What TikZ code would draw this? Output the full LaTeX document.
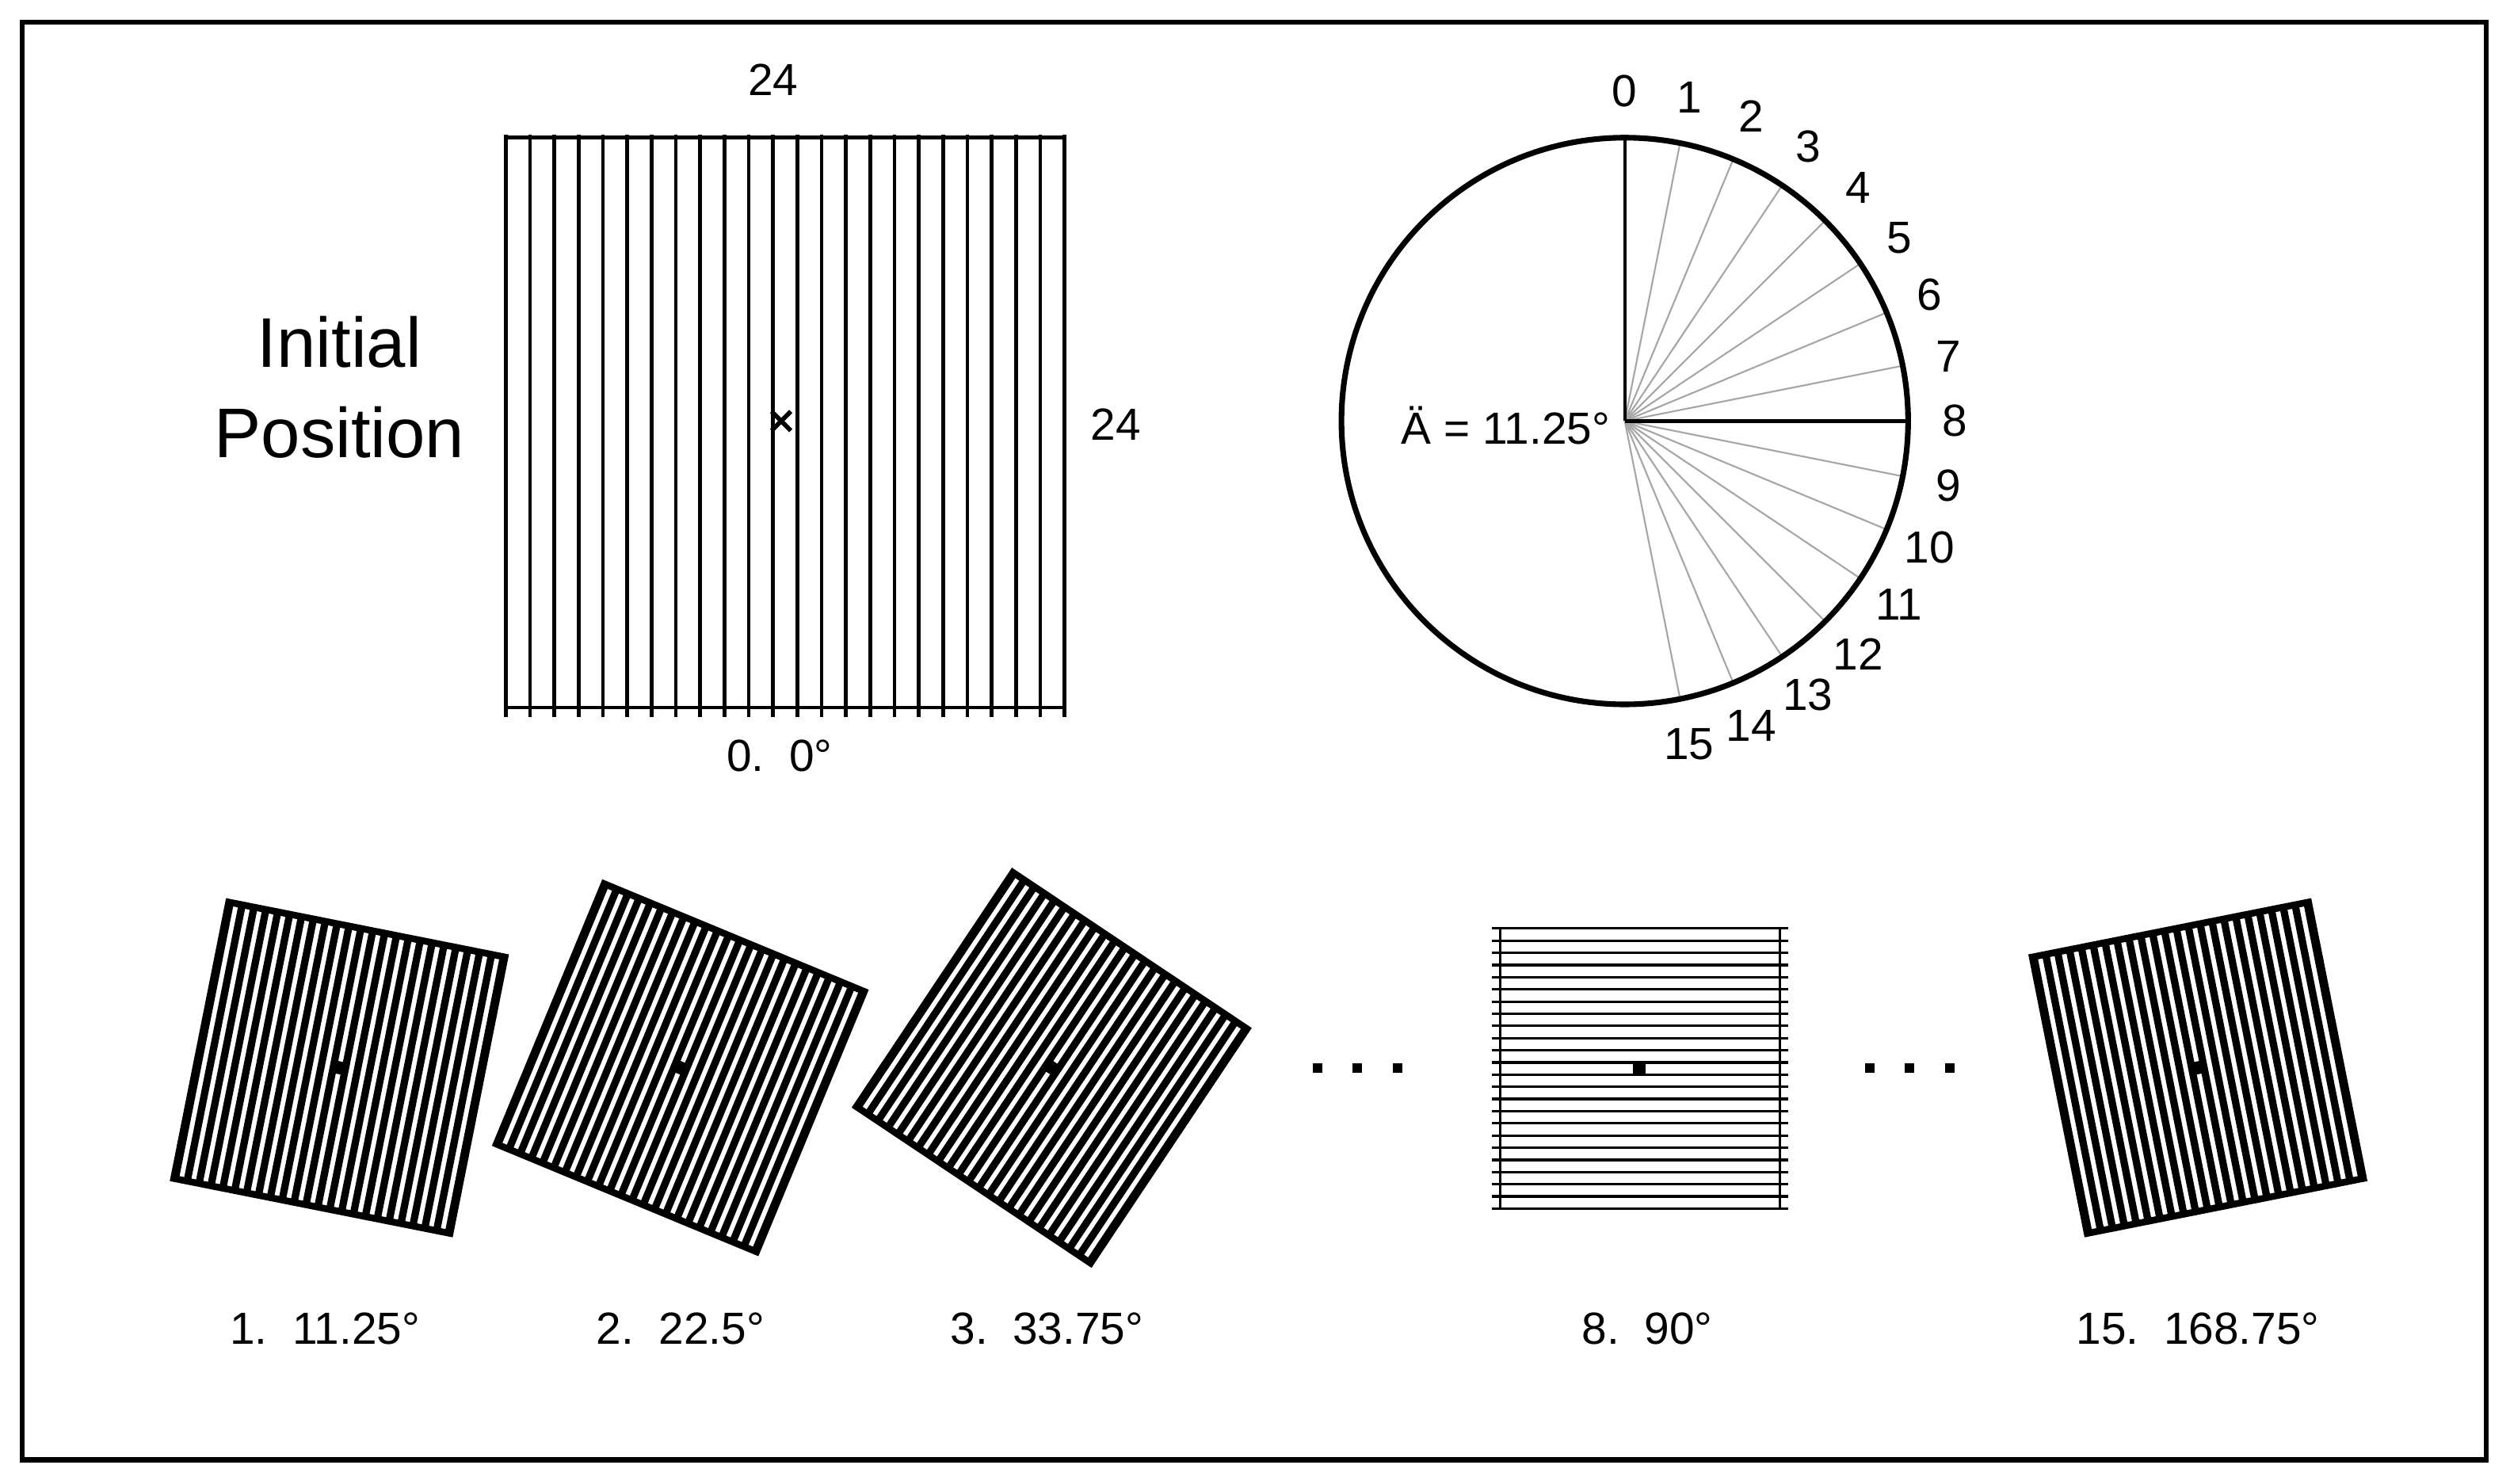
\documentclass[tikz,border=0pt]{standalone}
\usepackage{fontspec}
\setmainfont{Liberation Sans}
\begin{document}
\begin{tikzpicture}[x=0.02cm,y=-0.02cm,
  lbl/.style={font=\fontsize{16}{18}\selectfont},
  gline/.style={line width=1.3pt},
  spoke/.style={draw=gray!70,line width=0.6pt}]
\useasboundingbox (0,0) rectangle (1568,927);
\draw[line width=1.8pt] (14,14) rectangle (1553,912);
% big grating
\foreach \k in {0,...,23}{\draw[gline] ({316+\k*349/23},84) -- ({316+\k*349/23},448);}
\draw[gline] (316,86) -- (665,86) (316,442) -- (665,442);
\fill[white] (484,256) rectangle (492,270);
\draw[line width=1.6pt] (482,257) -- (494,269) (482,269) -- (494,257);
\node[lbl] (t24) at (483,50) {24};
\node[lbl] (r24) at (697,265) {24};
\node[lbl] (l0) at (487,472) {0.\ \ 0°};
\node[font=\fontsize{25}{32}\selectfont,align=center] (init) at (212,242) {Initial\\Position};
% circle
\coordinate (c) at (1015,263);
\foreach \k in {1,...,7,9,10,...,15}{\draw[spoke] (c) -- ++({177*sin(11.25*\k)},{-177*cos(11.25*\k)});}
\foreach \k in {0,...,15}{\path (c) ++({206*sin(11.25*\k)},{-206*cos(11.25*\k)}) node[lbl] {\k};}
\draw[line width=1.2pt] (c) -- ++(0,-177) (c) -- ++(177,0);
\draw[line width=2pt] (c) circle[radius=177];
\node[lbl,anchor=east] (delta) at (1012,266) {Ä = 11.25°};
% bottom squares
\foreach \cx/\ang/\name in {212/-11.25/s1,425/-22.5/s2,657/-33.75/s3,1373/-168.75/s15}{
  \begin{scope}[shift={(\cx,667)},rotate=\ang]
    \foreach \k in {0,...,23}{\draw[line width=2.6pt] ({-87+\k*174/23},-88) -- ({-87+\k*174/23},88);}
    \draw[line width=2.4pt] (-88,-88) rectangle (88,88);
    \fill (-4,-4) rectangle (4,4);
  \end{scope}}
\foreach \k in {0,...,23}{\draw[line width=0.9pt] (932,{580+\k*175/23}) -- (1117,{580+\k*175/23});}
\draw[line width=0.9pt] (937,580) -- (937,755) (1112,580) -- (1112,755);
\fill (1020,663) rectangle (1028,671);
\node[lbl] (b1) at (203,830) {1.\ \ 11.25°};
\node[lbl] (b2) at (425,830) {2.\ \ 22.5°};
\node[lbl] (b3) at (654,830) {3.\ \ 33.75°};
\node[lbl] (b8) at (1029,830) {8.\ \ 90°};
\node[lbl] (b15) at (1373,830) {15.\ \ 168.75°};
\foreach \x in {820,845,870,1165,1190,1215}{\fill (\x,670) rectangle ++(6,-6);}
\end{tikzpicture}
\end{document}
